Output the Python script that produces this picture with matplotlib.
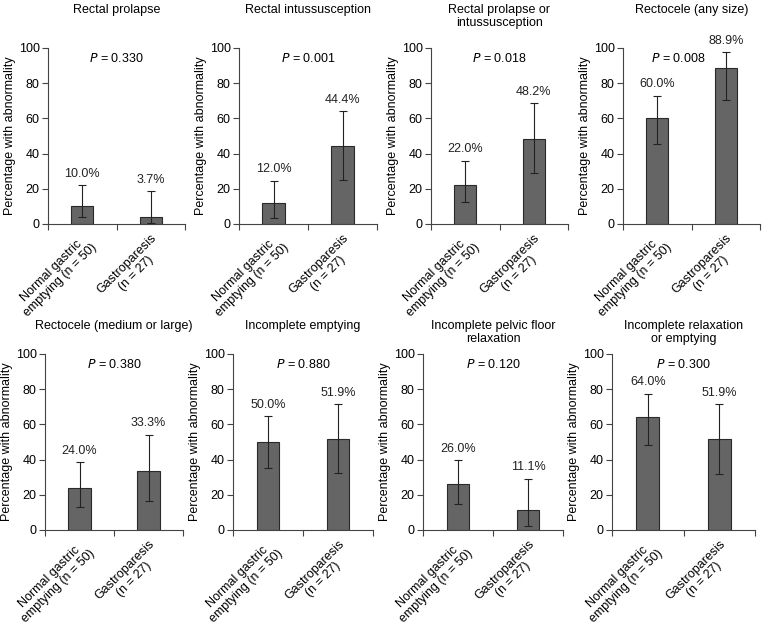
import numpy as np
import matplotlib.pyplot as plt

# panel data
titles = ['Rectal prolapse', 'Rectal intussusception', 'Rectal prolapse or\nintussusception',
          'Rectocele (any size)', 'Rectocele (medium or large)', 'Incomplete emptying',
          'Incomplete pelvic floor\nrelaxation', 'Incomplete relaxation\nor emptying']
p_values = ['0.330', '0.001', '0.018', '0.008', '0.380', '0.880', '0.120', '0.300']
groups = ['Normal gastric\nemptying (n = 50)', 'Gastroparesis\n(n = 27)']

normal_pct = [10.0, 12.0, 22.0, 60.0, 24.0, 50.0, 26.0, 64.0]
gastro_pct = [3.7, 44.4, 48.2, 88.9, 33.3, 51.9, 11.1, 51.9]
normal_lo = [4.0, 3.5, 12.5, 45.5, 13.0, 35.5, 14.5, 48.5]
normal_hi = [22.0, 24.5, 36.0, 73.0, 38.5, 64.5, 39.5, 77.5]
gastro_lo = [0.5, 25.0, 29.0, 70.5, 16.5, 32.5, 2.5, 32.0]
gastro_hi = [18.5, 64.0, 68.5, 97.5, 54.0, 71.5, 29.0, 71.5]

W, H = 765, 626
# axes boxes in pixels: left, right, top, bottom
boxes = [(48, 185, 48, 224), (239, 377, 48, 224), (431, 568, 48, 224), (623, 760, 48, 224),
         (45, 183, 354, 530), (233, 373, 354, 530), (423, 563, 354, 530), (612, 755, 354, 530)]
p_xpos = [0.5, 0.5, 0.5, 0.4, 0.5, 0.5, 0.5, 0.5]

plt.rcParams['font.family'] = 'Liberation Sans'
fs = 9
fig = plt.figure(figsize=(W / 100, H / 100), dpi=100)

for i in range(8):
    l, r, t, b = boxes[i]
    ax = fig.add_axes([l / W, 1 - b / H, (r - l) / W, (b - t) / H])
    x = np.array([0, 1])
    vals = np.array([normal_pct[i], gastro_pct[i]])
    lo = np.array([normal_lo[i], gastro_lo[i]])
    hi = np.array([normal_hi[i], gastro_hi[i]])
    ax.bar(x, vals, width=0.32, color='#656565', edgecolor='#2a2a2a', linewidth=0.8, zorder=2)
    ax.errorbar(x, vals, yerr=[vals - lo, hi - vals], fmt='none', ecolor='#222222',
                elinewidth=0.8, capsize=3, capthick=0.8, zorder=3)
    for xi, v, h in zip(x, vals, hi):
        ax.annotate('%.1f%%' % v, (xi, h), xytext=(0, 4), textcoords='offset points',
                    ha='center', va='bottom', fontsize=fs, color='#222222')
    ax.set_xlim(-0.5, 1.5)
    ax.set_ylim(0, 100)
    ax.set_yticks([0, 20, 40, 60, 80, 100])
    ax.set_xticks([-0.5, 0.5, 1.5])
    ax.set_xticklabels([])
    ax.set_xticks(x, minor=True)
    ax.set_xticklabels(groups, minor=True, rotation=45, ha='right', va='top',
                       rotation_mode='anchor', multialignment='center', fontsize=fs,
                       linespacing=1.05)
    ax.tick_params(axis='x', which='minor', length=0, pad=6)
    ax.tick_params(axis='x', which='major', length=4, direction='out', color='#444444')
    ax.tick_params(axis='y', length=4, direction='out', labelsize=fs, color='#444444', pad=2)
    for s in ['top', 'right']:
        ax.spines[s].set_visible(False)
    for s in ['left', 'bottom']:
        ax.spines[s].set_color('#444444')
        ax.spines[s].set_linewidth(0.8)
    ax.set_ylabel('Percentage with abnormality', fontsize=fs, labelpad=2)
    ax.text(p_xpos[i], 0.94, '$P$ = ' + p_values[i], transform=ax.transAxes,
            ha='center', va='center', fontsize=fs)
    # titles
    ty = 4 if i < 4 else 320
    fig.text((l + r) / 2 / W, 1 - ty / H, titles[i], ha='center', va='top', fontsize=fs,
             linespacing=1.15)

fig.savefig('out.png', dpi=100, facecolor='white')
